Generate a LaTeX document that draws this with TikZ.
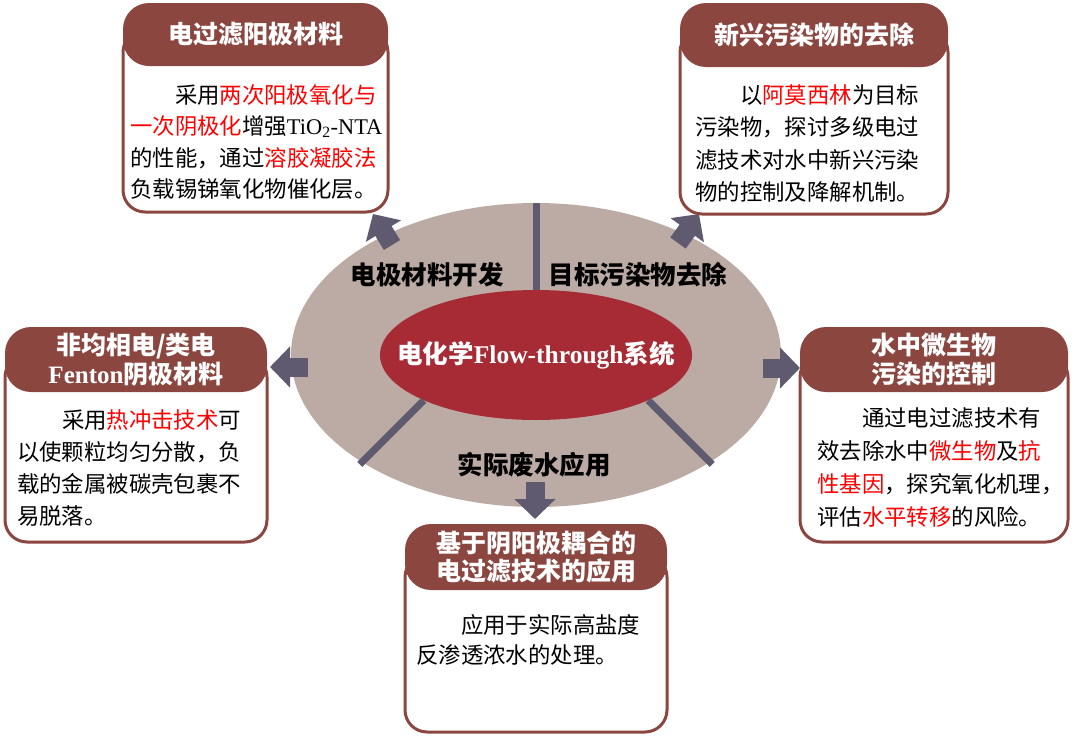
\documentclass[tikz,border=0pt]{standalone}
\usepackage{fontspec}
\setmainfont{Noto Sans CJK SC}
\newfontfamily\tnr{Liberation Serif}
\usetikzlibrary{arrows.meta,shapes.geometric}
\definecolor{hdbrown}{HTML}{8C4640}
\definecolor{ringgray}{HTML}{BCAAA4}
\definecolor{corered}{HTML}{A62B35}
\definecolor{arrowgray}{HTML}{605A70}
\newcommand\hlred[1]{\textcolor{red}{#1}}
\tikzset{
  bodybox/.style={draw=hdbrown, line width=3pt, rounded corners=22pt, fill=white, inner sep=0pt},
  headbox/.style={fill=hdbrown, rounded corners=26pt, inner sep=0pt, text=white,
    font=\fontsize{25}{28.5}\selectfont\bfseries, align=center},
  bodytext/.style={anchor=north west, inner sep=0pt, align=left},
  ringlabel/.style={font=\fontsize{25.5}{28}\selectfont\bfseries},
  blockarrow/.style={arrowgray, line width=19pt, -{Triangle[width=40pt,length=20pt]}},
  divider/.style={arrowgray, line width=7pt},
}
\begin{document}
\begin{tikzpicture}[x=1pt,y=-1pt]
  \useasboundingbox (0,0) rectangle (1080,737);
  % central system
  \node[ellipse, fill=ringgray, minimum width=490pt, minimum height=304pt, inner sep=0pt] (ring) at (536,355) {};
  \node[ellipse, fill=corered, minimum width=312pt, minimum height=130pt, inner sep=0pt] (core) at (536,355) {};
  \node[text=white, font=\fontsize{25.5}{28}\selectfont\bfseries, inner sep=0pt] (coretx) at (core.center)
    {电化学{\tnr Flow-through}系统};
  \draw[divider] (core.north) -- (ring.north);
  \draw[divider] (core.202) -- ++(-64,64);
  \draw[divider] (core.338) -- ++(64,64);
  \node[ringlabel] (lbA) at (427,275) {电极材料开发};
  \node[ringlabel] (lbB) at (638,275) {目标污染物去除};
  \node[ringlabel] (lbC) at (534,465) {实际废水应用};

  % arrows out of the ring
  \coordinate (tlS) at (392,245); \coordinate (tlE) at (373,214);
  \coordinate (trS) at (678,243); \coordinate (trE) at (699,214);
  \coordinate (lfS) at (308,367); \coordinate (lfE) at (270,367);
  \coordinate (rtS) at (763,368); \coordinate (rtE) at (800,368);
  \coordinate (btS) at (535,482); \coordinate (btE) at (535,519);
  \draw[blockarrow] (tlS) -- (tlE);
  \draw[blockarrow] (trS) -- (trE);
  \draw[blockarrow] (lfS) -- (lfE);
  \draw[blockarrow] (rtS) -- (rtE);
  \draw[blockarrow] (btS) -- (btE);

  % anode box
  \node[bodybox, minimum width=265pt, minimum height=182pt] (anode) at (255.5,121) {};
  \node[headbox, minimum width=265pt, minimum height=63pt] (anodehd) at (255.5,34.5) {电过滤阳极材料};
  \node[bodytext, font=\fontsize{22.4}{31.5}\selectfont] (anodetx) at (130,84)
    {\hspace{2em}采用\hlred{两次阳极氧化与}\\\hlred{一次阴极化}增强{\tnr TiO\textsubscript{2}-NTA}\\的性能，通过\hlred{溶胶凝胶法}\\负载锡锑氧化物催化层。};

  % pollutant box
  \node[bodybox, minimum width=268pt, minimum height=184pt] (pollut) at (814,122) {};
  \node[headbox, minimum width=268pt, minimum height=64pt] (pollhd) at (814,35) {新兴污染物的去除};
  \node[bodytext, font=\fontsize{22.4}{32.5}\selectfont] (polltx) at (695,84)
    {\hspace{2em}以\hlred{阿莫西林}为目标\\污染物，探讨多级电过\\滤技术对水中新兴污染\\物的控制及降解机制。};

  % cathode box
  \node[bodybox, minimum width=262pt, minimum height=187pt] (cathode) at (136,448.5) {};
  \node[headbox, minimum width=262pt, minimum height=65pt] (cathhd) at (136,359.5)
    {非均相电/类电\\{\tnr Fenton}阴极材料};
  \node[bodytext, font=\fontsize{22.4}{32.3}\selectfont] (cathtx) at (17,409)
    {\hspace{2em}采用\hlred{热冲击技术}可\\以使颗粒均匀分散，负\\载的金属被碳壳包裹不\\易脱落。};

  % microbe box
  \node[bodybox, minimum width=268pt, minimum height=187pt] (microbe) at (934,448.5) {};
  \node[headbox, minimum width=268pt, minimum height=65pt] (microhd) at (934,359.5)
    {水中微生物\\污染的控制};
  \node[bodytext, font=\fontsize{22.4}{33}\selectfont] (microtx) at (817,407)
    {\hspace{2em}通过电过滤技术有\\效去除水中\hlred{微生物}及\hlred{抗}\\\hlred{性基因}，探究氧化机理，\\评估\hlred{水平转移}的风险。};

  % application box
  \node[bodybox, minimum width=262pt, minimum height=177pt] (apply) at (536,643.5) {};
  \node[headbox, minimum width=262pt, minimum height=66pt] (applyhd) at (536,557)
    {基于阴阳极耦合的\\电过滤技术的应用};
  \node[bodytext, font=\fontsize{22.4}{30}\selectfont] (applytx) at (416,614)
    {\hspace{2em}应用于实际高盐度\\反渗透浓水的处理。};
\end{tikzpicture}
\end{document}
